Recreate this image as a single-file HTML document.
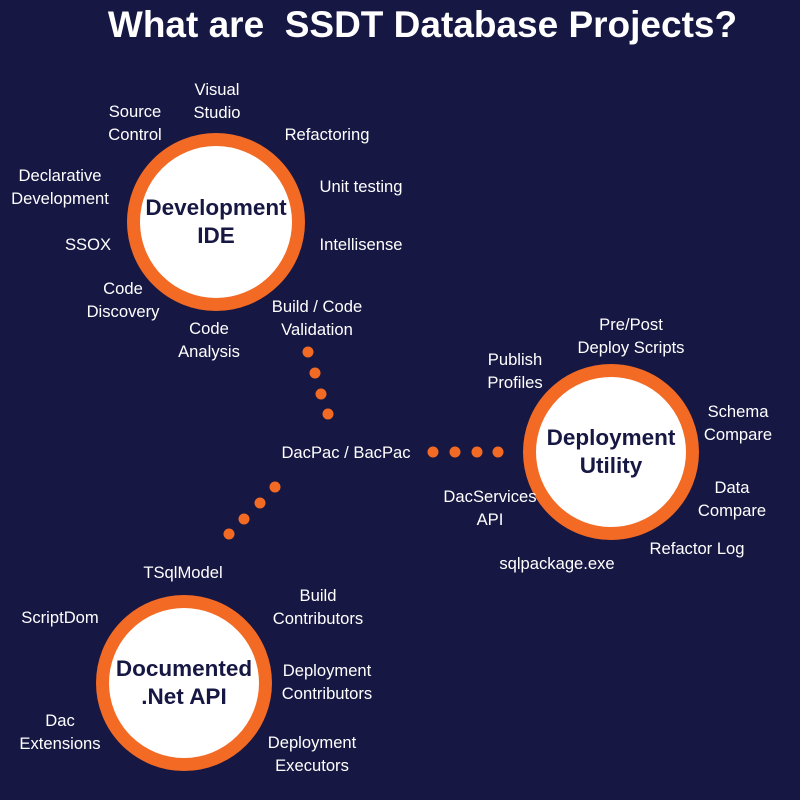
<!DOCTYPE html>
<html><head><meta charset="utf-8"><style>
body{margin:0;background:#161743;}
#c{position:relative;width:800px;height:800px;background:#161743;overflow:hidden;font-family:"Liberation Sans",sans-serif;}
.t{position:absolute;color:#fff;font-size:16.6px;line-height:23px;text-align:center;transform:translateX(-50%);white-space:nowrap;}
.ring{position:absolute;border-radius:50%;background:#fff;border:13px solid #f26a24;box-sizing:border-box;display:flex;align-items:center;justify-content:center;text-align:center;color:#161743;font-weight:bold;font-size:22.5px;line-height:28px;}
.d{position:absolute;width:11px;height:11px;border-radius:50%;background:#f26a24;transform:translate(-50%,-50%);}
h1{position:absolute;left:0;width:845px;top:4px;margin:0;text-align:center;color:#fff;font-size:37px;font-weight:bold;}
</style></head><body><div id="c">
<h1>What are&nbsp; SSDT Database Projects?</h1>
<div class="ring" style="left:127px;top:133px;width:178px;height:178px">Development<br>IDE</div>
<div class="ring" style="left:523px;top:364px;width:176px;height:176px">Deployment<br>Utility</div>
<div class="ring" style="left:96px;top:595px;width:176px;height:176px">Documented<br>.Net API</div>

<div class="t" style="left:217px;top:78px">Visual<br>Studio</div>
<div class="t" style="left:135px;top:100px">Source<br>Control</div>
<div class="t" style="left:327px;top:123px">Refactoring</div>
<div class="t" style="left:60px;top:164px">Declarative<br>Development</div>
<div class="t" style="left:88px;top:233px">SSOX</div>
<div class="t" style="left:361px;top:175px">Unit testing</div>
<div class="t" style="left:361px;top:233px">Intellisense</div>
<div class="t" style="left:123px;top:277px">Code<br>Discovery</div>
<div class="t" style="left:317px;top:295px">Build / Code<br>Validation</div>
<div class="t" style="left:209px;top:317px">Code<br>Analysis</div>

<div class="t" style="left:631px;top:313px">Pre/Post<br>Deploy Scripts</div>
<div class="t" style="left:515px;top:348px">Publish<br>Profiles</div>
<div class="t" style="left:738px;top:400px">Schema<br>Compare</div>
<div class="t" style="left:346px;top:441px">DacPac / BacPac</div>
<div class="t" style="left:732px;top:476px">Data<br>Compare</div>
<div class="t" style="left:490px;top:485px">DacServices<br>API</div>
<div class="t" style="left:697px;top:537px">Refactor Log</div>
<div class="t" style="left:557px;top:552px">sqlpackage.exe</div>

<div class="t" style="left:183px;top:561px">TSqlModel</div>
<div class="t" style="left:318px;top:584px">Build<br>Contributors</div>
<div class="t" style="left:60px;top:606px">ScriptDom</div>
<div class="t" style="left:327px;top:659px">Deployment<br>Contributors</div>
<div class="t" style="left:60px;top:709px">Dac<br>Extensions</div>
<div class="t" style="left:312px;top:731px">Deployment<br>Executors</div>

<div class="d" style="left:308px;top:352px"></div>
<div class="d" style="left:315px;top:373px"></div>
<div class="d" style="left:321px;top:394px"></div>
<div class="d" style="left:328px;top:414px"></div>
<div class="d" style="left:433px;top:452px"></div>
<div class="d" style="left:455px;top:452px"></div>
<div class="d" style="left:477px;top:452px"></div>
<div class="d" style="left:498px;top:452px"></div>
<div class="d" style="left:275px;top:487px"></div>
<div class="d" style="left:260px;top:503px"></div>
<div class="d" style="left:244px;top:519px"></div>
<div class="d" style="left:229px;top:534px"></div>
</div></body></html>
